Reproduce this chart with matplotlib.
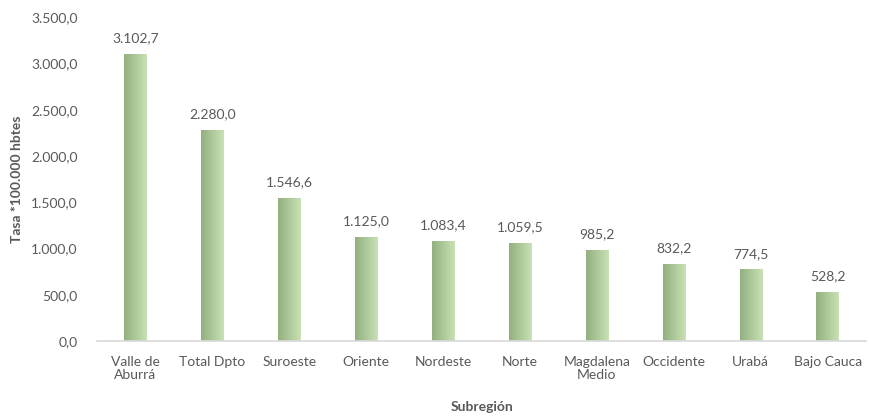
import numpy as np
import matplotlib.pyplot as plt
from matplotlib.colors import LinearSegmentedColormap

subregiones = ["Valle de\nAburrá", "Total Dpto", "Suroeste", "Oriente", "Nordeste",
               "Norte", "Magdalena\nMedio", "Occidente", "Urabá", "Bajo Cauca"]
tasas = [3102.7, 2280.0, 1546.6, 1125.0, 1083.4, 1059.5, 985.2, 832.2, 774.5, 528.2]
yticks = [0, 500, 1000, 1500, 2000, 2500, 3000, 3500]


def fmt(v):
    # miles con punto, decimales con coma
    s = f"{v:,.1f}"
    return s.replace(",", "X").replace(".", ",").replace("X", ".")


plt.rcParams['font.family'] = ['Lato', 'DejaVu Sans']
gray = "#595959"

fig = plt.figure(figsize=(8.7, 4.2), dpi=100)
ax = fig.add_axes([0.1115, 0.188, 0.884, 0.771])

x = np.arange(len(subregiones))
bars = ax.bar(x, tasas, width=0.29, color="none", edgecolor="none")

# degradado horizontal verde en cada barra
cmap = LinearSegmentedColormap.from_list("verde", ["#93b07f", "#c8e1b5"])
grad = np.linspace(0, 1, 64).reshape(1, -1)
for b in bars:
    im = ax.imshow(grad, cmap=cmap, aspect="auto", interpolation="bilinear",
                   extent=[b.get_x(), b.get_x() + b.get_width(), 0, b.get_height()],
                   zorder=2)
    im.set_clip_path(b)

for xi, v in zip(x, tasas):
    ax.annotate(fmt(v), (xi, v), xytext=(0, 7), textcoords="offset points",
                ha="center", va="bottom", fontsize=10, color=gray)

ax.set_xlim(-0.5, len(subregiones) - 0.5)
ax.set_ylim(0, 3500)
ax.set_yticks(yticks)
ax.set_yticklabels([fmt(t) for t in yticks])
ax.set_xticks(x)
ax.set_xticklabels(subregiones, linespacing=1.1)
ax.tick_params(axis="both", length=0, labelsize=10, colors=gray)
ax.tick_params(axis="y", pad=14)
ax.tick_params(axis="x", pad=11)

for side in ["top", "right", "left"]:
    ax.spines[side].set_visible(False)
ax.spines["bottom"].set_color("#d9d9d9")
ax.spines["bottom"].set_linewidth(1.2)

ax.set_ylabel("Tasa *100.000 hbtes", fontsize=10, fontweight="bold", color=gray, labelpad=6)
ax.set_xlabel("Subregión", fontsize=10, fontweight="bold", color=gray, labelpad=14)

fig.savefig("out.png", dpi=100)
